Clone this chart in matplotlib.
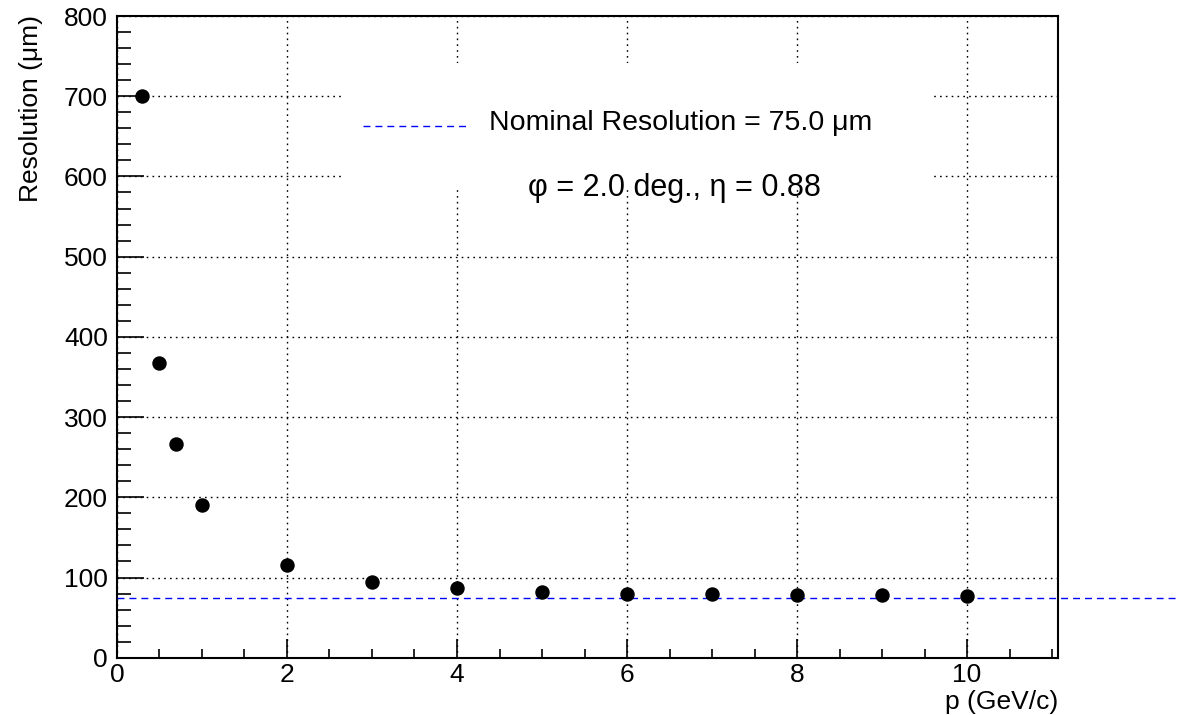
import numpy as np
import matplotlib
matplotlib.use("Agg")
import matplotlib.pyplot as plt
from matplotlib.ticker import MultipleLocator
from matplotlib.patches import Rectangle
from matplotlib.lines import Line2D

plt.rcParams['font.family'] = ['Liberation Sans', 'DejaVu Sans']

# measured resolution vs momentum
p_gev = [0.3, 0.5, 0.7, 1.0, 2.0, 3.0, 4.0, 5.0, 6.0, 7.0, 8.0, 9.0, 10.0]
resolution_um = [700, 368, 267, 190, 116, 95, 87, 82, 80, 79, 78.5, 78, 77.5]
nominal_um = 75.0
phi_deg = 2.0
eta = 0.88

fig = plt.figure(figsize=(11.79, 7.15), dpi=100)
ax = fig.add_axes([0.0992, 0.0801, 0.7982, 0.8975])

ax.plot(p_gev, resolution_um, 'o', color='black', markersize=9.4, zorder=4)

# nominal line, runs past the frame to the edge of the canvas
ax.axhline(nominal_um, xmin=0, xmax=1.13, color='blue', lw=1.0,
           linestyle=(0, (5, 3.6)), clip_on=False, zorder=3)

ax.set_xlim(0, 11.07)
ax.set_ylim(0, 800)
ax.xaxis.set_major_locator(MultipleLocator(2))
ax.xaxis.set_minor_locator(MultipleLocator(0.5))
ax.yaxis.set_major_locator(MultipleLocator(100))
ax.yaxis.set_minor_locator(MultipleLocator(20))

ax.tick_params(axis='both', which='both', direction='in', top=False, right=False,
               labelsize=19, width=1.2)
ax.tick_params(axis='x', which='major', length=13.7, pad=3.5)
ax.tick_params(axis='x', which='minor', length=6.8)
ax.tick_params(axis='y', which='major', length=19.4, pad=6.5)
ax.tick_params(axis='y', which='minor', length=10)

for s in ax.spines.values():
    s.set_linewidth(1.5)

ax.grid(True, which='major', color='black', lw=1.0, linestyle=(0, (1.2, 3.0)))

# white legend pad hiding the grid
box = Rectangle((340.7 / 1179, 1 - 186.7 / 715), 591.0 / 1179, 124.0 / 715,
                transform=fig.transFigure, facecolor='white', edgecolor='none',
                zorder=1.8)
ax.add_patch(box)

fig.lines.append(Line2D([363 / 1179, 466 / 1179], [1 - 126.3 / 715] * 2,
                        transform=fig.transFigure, color='blue', lw=1.0,
                        linestyle=(0, (5, 3.6))))
fig.text(489 / 1179, 1 - 123 / 715, f"Nominal Resolution = {nominal_um:.1f} \u03bcm",
         fontsize=20.5, ha='left', va='center')
fig.text(674 / 1179, 1 - 188 / 715, f"\u03c6 = {phi_deg:.1f} deg., \u03b7 = {eta:.2f}",
         fontsize=22, ha='center', va='center')

fig.text(0.026, 0.979, "Resolution (\u03bcm)", fontsize=19, rotation=90,
         ha='center', va='top')
fig.text(0.8974, 0.002, "p (GeV/c)", fontsize=19, ha='right', va='bottom')

fig.savefig("out.png", dpi=100)
